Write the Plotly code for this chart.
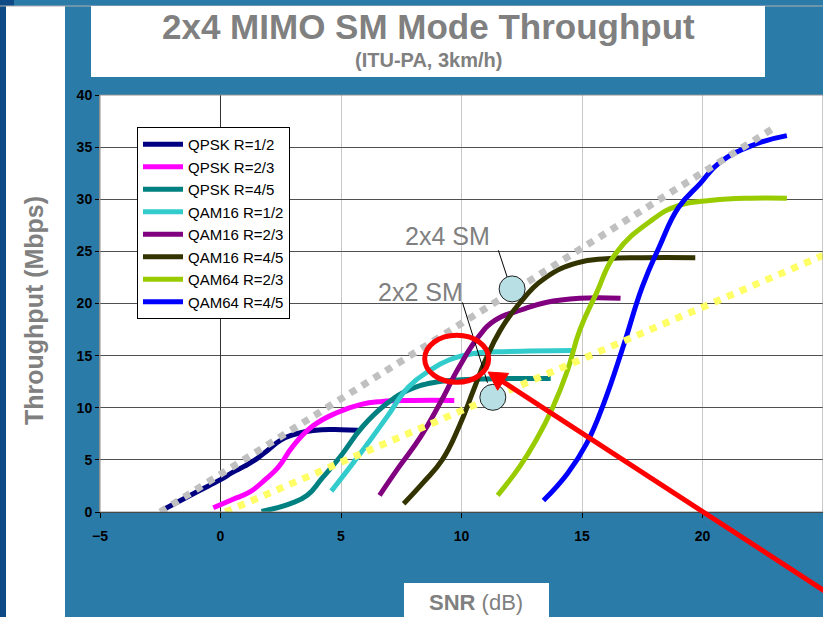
import plotly.graph_objects as go

# ---------------- data ----------------
series_names = ["QPSK R=1/2", "QPSK R=2/3", "QPSK R=4/5", "QAM16 R=1/2",
                "QAM16 R=2/3", "QAM16 R=4/5", "QAM64 R=2/3", "QAM64 R=4/5"]

qpsk12_x = [-2.4, -1.5, -0.5, 0, 0.5, 1, 1.5, 2, 2.5, 3, 3.5, 4.2, 5, 5.7]
qpsk12_y = [0.2, 1.3, 2.5, 3.1, 3.8, 4.4, 5.1, 6.0, 6.9, 7.4, 7.7, 7.9, 7.9, 7.85]

qpsk23_x = [-0.3, 0.5, 1.2, 1.9, 2.4, 3.0, 3.8, 4.8, 5.8, 6.7, 8.0, 9.7]
qpsk23_y = [0.4, 1.2, 1.9, 3.2, 4.3, 6.3, 8.2, 9.5, 10.3, 10.6, 10.7, 10.7]

qpsk45_x = [1.7, 2.9, 3.6, 4.2, 5.0, 5.9, 6.9, 7.8, 8.8, 10.2, 12.0, 13.7]
qpsk45_y = [0.05, 0.8, 1.6, 3.2, 5.4, 8.2, 10.4, 11.7, 12.4, 12.7, 12.8, 12.8]

qam16_12_x = [4.6, 5.8, 6.9, 7.8, 8.7, 9.5, 10.5, 12.0, 14.6]
qam16_12_y = [2.0, 5.6, 9.1, 12.0, 13.6, 14.6, 15.2, 15.4, 15.5]

qam16_23_x = [6.6, 7.4, 8.3, 9.1, 9.9, 10.7, 11.4, 12.5, 13.5, 14.9, 16.6]
qam16_23_y = [1.6, 4.3, 7.2, 10.4, 13.9, 16.8, 18.4, 19.4, 20.1, 20.5, 20.5]

qam16_45_x = [7.6, 8.4, 9.2, 9.9, 10.5, 11.0, 11.6, 12.4, 13.5, 14.8, 16.0, 17.5, 19.7]
qam16_45_y = [0.8, 2.8, 5.0, 8.2, 11.7, 14.6, 17.4, 20.0, 22.5, 23.9, 24.3, 24.4, 24.4]

qam64_23_x = [11.5, 12.4, 13.1, 13.8, 14.4, 14.9, 15.6, 16.4, 17.9, 19.0, 20.4, 22.0, 23.5]
qam64_23_y = [1.6, 4.3, 6.9, 10.1, 13.6, 17.4, 21.0, 24.8, 28.0, 29.4, 29.9, 30.1, 30.1]

qam64_45_x = [13.4, 14.4, 15.2, 15.9, 16.7, 17.5, 18.2, 19.0, 19.9, 20.7, 22.1, 23.5]
qam64_45_y = [1.1, 3.7, 6.6, 10.4, 15.8, 21.6, 25.4, 29.2, 31.5, 33.5, 35.2, 36.1]

sm24_x = [-2.5, 23.0]
sm24_y = [0.0, 36.9]
sm22_x = [0.2, 25.0]
sm22_y = [0.0, 24.6]

x_ticks = [-5, 0, 5, 10, 15, 20, 25]
y_ticks = [0, 5, 10, 15, 20, 25, 30, 35, 40]

# ---------------- style ----------------
colors = ["#000080", "#FF00FF", "#008080", "#33CCCC",
          "#800080", "#333300", "#99CC00", "#0000FF"]
FONT = "Liberation Sans, Arial, sans-serif"
BG = "#2B7BA9"
GRAY = "#808080"

series = [(qpsk12_x, qpsk12_y), (qpsk23_x, qpsk23_y), (qpsk45_x, qpsk45_y),
          (qam16_12_x, qam16_12_y), (qam16_23_x, qam16_23_y), (qam16_45_x, qam16_45_y),
          (qam64_23_x, qam64_23_y), (qam64_45_x, qam64_45_y)]

fig = go.Figure()
for name, (xs, ys), c in zip(series_names, series, colors):
    fig.add_trace(go.Scatter(x=xs, y=ys, name=name, mode="lines", hoverinfo="skip",
                             line=dict(color=c, width=5, shape="spline", smoothing=1.3)))

fig.add_trace(go.Scatter(x=sm24_x, y=sm24_y, mode="lines", showlegend=False, hoverinfo="skip",
                         line=dict(color="#C0C0C0", width=7, dash="7px,7px")))
fig.add_trace(go.Scatter(x=sm22_x, y=sm22_y, mode="lines", showlegend=False, hoverinfo="skip",
                         line=dict(color="#FFFF66", width=7, dash="7px,7px")))

L, T, W, H = 100, 95, 723, 417


def px(xp):
    return (xp - L) / W


def py(yp):
    return (T + H - yp) / H


RED = "#FF0000"
shapes = [
    dict(type="rect", xref="paper", yref="paper", x0=px(0), x1=px(6), y0=py(617), y1=py(0),
         fillcolor="#0D4A86", line=dict(width=0), layer="below"),
    dict(type="rect", xref="paper", yref="paper", x0=px(0), x1=px(14), y0=py(8), y1=py(0),
         fillcolor="#0D4A86", line=dict(width=0), layer="below"),
    dict(type="rect", xref="paper", yref="paper", x0=px(6), x1=px(65), y0=py(617), y1=py(6),
         fillcolor="white", line=dict(width=0), layer="below"),
    dict(type="line", xref="paper", yref="paper", x0=px(0), x1=px(823), y0=py(6), y1=py(6),
         line=dict(color="#B0B0B0", width=1), layer="below"),
    dict(type="rect", xref="paper", yref="paper", x0=px(91), x1=px(765), y0=py(77), y1=py(6),
         fillcolor="white", line=dict(width=0), layer="below"),
    dict(type="rect", xref="paper", yref="paper", x0=px(404), x1=px(549), y0=py(617), y1=py(583),
         fillcolor="white", line=dict(width=0), layer="below"),
    dict(type="rect", xref="paper", yref="paper", x0=0, x1=1, y0=0, y1=1,
         line=dict(color="#909090", width=1), layer="above"),
    dict(type="line", xref="x", yref="y", x0=11.53, y0=25.1, x1=11.9, y1=22.5,
         line=dict(color="black", width=1)),
    dict(type="line", xref="x", yref="y", x0=10.04, y0=20.1, x1=11.08, y1=12.4,
         line=dict(color="black", width=1)),
    dict(type="circle", xref="x", yref="y", xsizemode="pixel", ysizemode="pixel",
         xanchor=12.1, yanchor=21.4, x0=-13, x1=13, y0=-13, y1=13,
         fillcolor="#B8DFE3", line=dict(color="#202020", width=1)),
    dict(type="circle", xref="x", yref="y", xsizemode="pixel", ysizemode="pixel",
         xanchor=11.3, yanchor=11.0, x0=-13, x1=13, y0=-13, y1=13,
         fillcolor="#B8DFE3", line=dict(color="#202020", width=1)),
    # red ellipse
    dict(type="circle", xref="x", yref="y", xsizemode="pixel", ysizemode="pixel",
         xanchor=9.8, yanchor=14.7, x0=-32, x1=32, y0=-23.5, y1=23.5,
         line=dict(color=RED, width=5)),
    # red arrow shaft
    dict(type="line", xref="paper", yref="paper", x0=px(501), y0=py(380.5), x1=px(900), y1=py(640),
         line=dict(color=RED, width=5)),
    # red arrow head
    dict(type="path", xref="paper", yref="paper", xsizemode="pixel", ysizemode="pixel",
         xanchor=px(488), yanchor=py(372), path="M0,0 L9.6,-18.2 L20.6,-1.4 Z",
         fillcolor=RED, line=dict(color=RED, width=1)),
]

C = dict(xanchor="center", yanchor="middle", showarrow=False)
annotations = [
    dict(xref="paper", yref="paper", x=px(428), y=py(27), text="<b>2x4 MIMO SM Mode Throughput</b>",
         font=dict(family=FONT, size=35, color=GRAY), **C),
    dict(xref="paper", yref="paper", x=px(428), y=py(60), text="<b>(ITU-PA, 3km/h)</b>",
         font=dict(family=FONT, size=20, color=GRAY), **C),
    dict(xref="paper", yref="paper", x=px(34), y=py(311), text="<b>Throughput (Mbps)</b>",
         textangle=-90, font=dict(family=FONT, size=25, color=GRAY), **C),
    dict(xref="paper", yref="paper", x=px(476), y=py(602), text="<b>SNR</b> (dB)",
         font=dict(family=FONT, size=22, color=GRAY), **C),
    dict(xref="x", yref="y", x=9.4, y=26.5, text="2x4 SM",
         font=dict(family=FONT, size=25, color=GRAY), **C),
    dict(xref="x", yref="y", x=8.3, y=21.1, text="2x2 SM",
         font=dict(family=FONT, size=25, color=GRAY), **C),
]

fig.update_layout(
    width=823, height=617,
    margin=dict(l=L, r=0, t=T, b=617 - T - H),
    paper_bgcolor=BG, plot_bgcolor="white",
    font=dict(family=FONT, color="black"),
    shapes=shapes, annotations=annotations,
    hovermode=False,
    legend=dict(x=px(137), y=py(127), xanchor="left", yanchor="top",
                bgcolor="white", bordercolor="black", borderwidth=1,
                font=dict(family=FONT, size=15, color="black"),
                tracegroupgap=0, itemwidth=40),
    xaxis=dict(range=[-5, 25], tickvals=x_ticks, showgrid=True, gridcolor="#C8C8C8",
               gridwidth=1, zeroline=True, zerolinecolor="#333333", zerolinewidth=1,
               showline=True, linecolor="black", linewidth=1,
               ticks="outside", ticklen=5, tickcolor="black", ticklabelstandoff=6,
               tickfont=dict(family=FONT, size=14, color="black", weight="bold")),
    yaxis=dict(range=[0, 40], tickvals=y_ticks, showgrid=True, gridcolor="#505050",
               gridwidth=1, zeroline=False, showline=True, linecolor="#909090",
               ticks="outside", ticklen=4, tickcolor="black",
               tickfont=dict(family=FONT, size=14, color="black", weight="bold")),
)

fig.write_html("out.html", config={"displayModeBar": False},
               post_script="document.body.style.margin='0';document.body.style.overflow='hidden';")
